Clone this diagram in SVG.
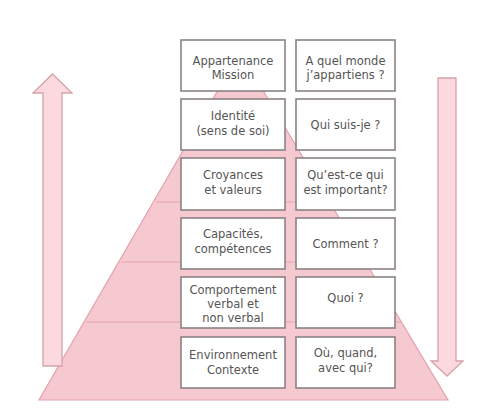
<svg xmlns="http://www.w3.org/2000/svg" width="487" height="417" viewBox="0 0 487 417">
<style>
.bg{fill:#ffffff}
.pyr{fill:#f6c8d0;stroke:#e3a3ae;stroke-width:1.2}
.lvl{stroke:#e3a3ae;stroke-width:1.2;fill:none}
.arr{fill:#fbd9de;stroke:#d3a2ab;stroke-width:1.3;stroke-linejoin:miter}
.box{fill:#ffffff;stroke:#8a8286;stroke-width:1.6}
.t{font-family:"DejaVu Sans","Liberation Sans",sans-serif;font-size:11.5px;fill:#555555;text-anchor:middle}
</style>
<rect class="bg" x="0" y="0" width="487" height="417"/>
<g id="pyramid">
<polygon class="pyr" points="240,52 448,400 39,400"/>
<line class="lvl" x1="156" y1="202" x2="329" y2="202"/>
<line class="lvl" x1="121" y1="262" x2="365" y2="262"/>
<line class="lvl" x1="86" y1="322" x2="401" y2="322"/>
</g>
<g id="connectors">
<polygon id="arrow-up" class="arr" points="52.5,74 72,93 62,93 62,366 43,366 43,93 33,93"/>
<polygon id="arrow-down" class="arr" points="438,78 456,78 456,361 463,361 447,376 431,361 438,361"/>
</g>
<g id="n1">
<rect class="box" x="181" y="40" width="104" height="51"/>
<text class="t" x="233" y="65">Appartenance</text>
<text class="t" x="233" y="79">Mission</text>
</g>
<g id="q1">
<rect class="box" x="296" y="40" width="99" height="51"/>
<text class="t" x="345.5" y="65">A quel monde</text>
<text class="t" x="345.5" y="79">j’appartiens ?</text>
</g>
<g id="n2">
<rect class="box" x="181" y="99" width="104" height="51"/>
<text class="t" x="233" y="120">Identité</text>
<text class="t" x="233" y="135">(sens de soi)</text>
</g>
<g id="q2">
<rect class="box" x="296" y="99" width="99" height="51"/>
<text class="t" x="345.5" y="128.5">Qui suis-je ?</text>
</g>
<g id="n3">
<rect class="box" x="181" y="158" width="104" height="52"/>
<text class="t" x="233" y="179">Croyances</text>
<text class="t" x="233" y="193.5">et valeurs</text>
</g>
<g id="q3">
<rect class="box" x="296" y="158" width="99" height="52"/>
<text class="t" x="345.5" y="179">Qu’est-ce qui</text>
<text class="t" x="345.5" y="193.5">est important?</text>
</g>
<g id="n4">
<rect class="box" x="181" y="218" width="104" height="51"/>
<text class="t" x="233" y="238">Capacités,</text>
<text class="t" x="233" y="252.5">compétences</text>
</g>
<g id="q4">
<rect class="box" x="296" y="218" width="99" height="51"/>
<text class="t" x="345.5" y="248">Comment ?</text>
</g>
<g id="n5">
<rect class="box" x="181" y="277" width="104" height="51"/>
<text class="t" x="233" y="293.5">Comportement</text>
<text class="t" x="233" y="307.5">verbal et</text>
<text class="t" x="233" y="322">non verbal</text>
</g>
<g id="q5">
<rect class="box" x="296" y="277" width="99" height="51"/>
<text class="t" x="345.5" y="302">Quoi ?</text>
</g>
<g id="n6">
<rect class="box" x="181" y="337" width="104" height="51"/>
<text class="t" x="233" y="358.5">Environnement</text>
<text class="t" x="233" y="373.5">Contexte</text>
</g>
<g id="q6">
<rect class="box" x="296" y="337" width="99" height="51"/>
<text class="t" x="345.5" y="357">Où, quand,</text>
<text class="t" x="345.5" y="372">avec qui?</text>
</g>
</svg>
